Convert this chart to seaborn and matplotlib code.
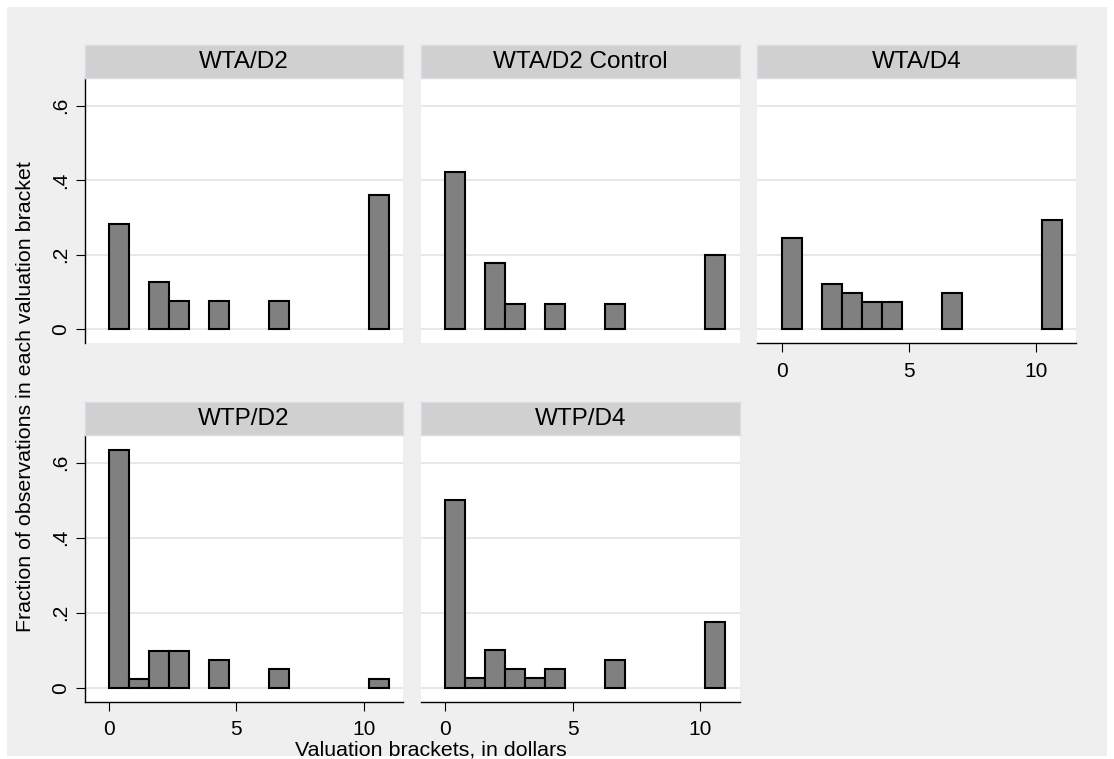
import numpy as np
import pandas as pd
import seaborn as sns
from matplotlib import pyplot as plt
from matplotlib.patches import Rectangle

# valuation brackets: 14 equal bins from 0 to 11 dollars
bin_edges = list(np.linspace(0, 11, 15))
bin_mids = [(a + b) / 2 for a, b in zip(bin_edges[:-1], bin_edges[1:])]

panel_names = ["WTA/D2", "WTA/D2 Control", "WTA/D4", "WTP/D2", "WTP/D4"]

# fraction of observations in each bracket
wta_d2 = [0.282, 0, 0.128, 0.077, 0, 0.077, 0, 0, 0.077, 0, 0, 0, 0, 0.359]
wta_d2_control = [0.422, 0, 0.178, 0.067, 0, 0.067, 0, 0, 0.067, 0, 0, 0, 0, 0.200]
wta_d4 = [0.244, 0, 0.122, 0.098, 0.073, 0.073, 0, 0, 0.098, 0, 0, 0, 0, 0.293]
wtp_d2 = [0.634, 0.024, 0.098, 0.098, 0, 0.073, 0, 0, 0.049, 0, 0, 0, 0, 0.024]
wtp_d4 = [0.500, 0.025, 0.100, 0.050, 0.025, 0.050, 0, 0, 0.075, 0, 0, 0, 0, 0.175]

y_ticks = [0, 0.2, 0.4, 0.6]
y_ticklabels = ["0", ".2", ".4", ".6"]
x_ticks = [0, 5, 10]

rows = []
for name, vals in zip(panel_names, [wta_d2, wta_d2_control, wta_d4, wtp_d2, wtp_d4]):
    for mid, v in zip(bin_mids, vals):
        if v > 0:
            rows.append({"panel": name, "bracket": mid, "fraction": v})
df = pd.DataFrame(rows)

sns.set_style("white")
plt.rcParams["font.family"] = ["Liberation Sans", "DejaVu Sans"]
plt.rcParams["font.size"] = 15
plt.rcParams["text.color"] = "black"
plt.rcParams["xtick.color"] = "black"
plt.rcParams["ytick.color"] = "black"
plt.rcParams["axes.labelcolor"] = "black"

W, H = 1114, 759
fig = plt.figure(figsize=(W / 100, H / 100), dpi=100, facecolor="white")
fig.patches.append(Rectangle((7 / W, 3 / H), 1 - 14 / W, 1 - 10 / H, transform=fig.transFigure,
                             facecolor="#efefef", edgecolor="none", zorder=-10))

col_left = [84.7, 421.0, 757.3]
col_w = 318.5
row_top = [78.0, 435.0]
row_bottom = [343.0, 701.7]
strip_h = 33.5

layout = {
    "WTA/D2": (0, 0, True, False),
    "WTA/D2 Control": (0, 1, False, False),
    "WTA/D4": (0, 2, False, True),
    "WTP/D2": (1, 0, True, True),
    "WTP/D4": (1, 1, False, True),
}

for name in panel_names:
    r, c, show_y, show_x = layout[name]
    left = col_left[c] / W
    bottom = 1 - row_bottom[r] / H
    height = (row_bottom[r] - row_top[r]) / H
    width = col_w / W
    ax = fig.add_axes([left, bottom, width, height])
    ax.set_facecolor("white")

    sub = df[df["panel"] == name]
    sns.histplot(data=sub, x="bracket", weights="fraction", bins=bin_edges,
                 color="#808080", edgecolor="black", linewidth=1.5, alpha=1,
                 ax=ax, zorder=3)
    for p in list(ax.patches):
        if p.get_height() == 0:
            p.remove()

    ax.set_xlim(-0.95, 11.55)
    ax.set_ylim(-0.037, 0.674)
    ax.set_yticks(y_ticks)
    ax.set_xticks(x_ticks)
    for y in y_ticks:
        ax.axhline(y, color="#e6e6e6", linewidth=1.3, zorder=1)
    ax.set_xlabel("")
    ax.set_ylabel("")

    for s in ["top", "right"]:
        ax.spines[s].set_visible(False)
    ax.spines["left"].set_visible(show_y)
    ax.spines["bottom"].set_visible(show_x)
    ax.spines["left"].set_color("black")
    ax.spines["bottom"].set_color("black")
    ax.spines["left"].set_linewidth(1.0)
    ax.spines["bottom"].set_linewidth(1.0)

    if show_y:
        ax.set_yticklabels(y_ticklabels, rotation=90, va="center")
        ax.tick_params(axis="y", left=True, length=6.5, width=0.8, pad=4, labelsize=15,
                       colors="black")
    else:
        ax.tick_params(axis="y", left=False, labelleft=False)
    if show_x:
        ax.tick_params(axis="x", bottom=True, length=6.5, width=0.8, pad=7, labelsize=15,
                       colors="black")
    else:
        ax.tick_params(axis="x", bottom=False, labelbottom=False)

    # panel strip
    sax = fig.add_axes([left, 1 - row_top[r] / H, width, strip_h / H])
    sax.set_facecolor("#d0d0d0")
    sax.set_xticks([])
    sax.set_yticks([])
    for s in sax.spines.values():
        s.set_color("#d8dde8")
        s.set_linewidth(1.0)
    sax.text(0.5, 0.48, name, ha="center", va="center", fontsize=17.5, color="black",
             transform=sax.transAxes)

fig.text(26 / W, 1 - 397 / H, "Fraction of observations in each valuation bracket",
         rotation=90, ha="center", va="center", fontsize=15.4, color="black")
fig.text(431 / W, 1 - 755 / H, "Valuation brackets, in dollars",
         ha="center", va="baseline", fontsize=15.4, color="black")

plt.savefig("out.png", dpi=100, facecolor=fig.get_facecolor())
